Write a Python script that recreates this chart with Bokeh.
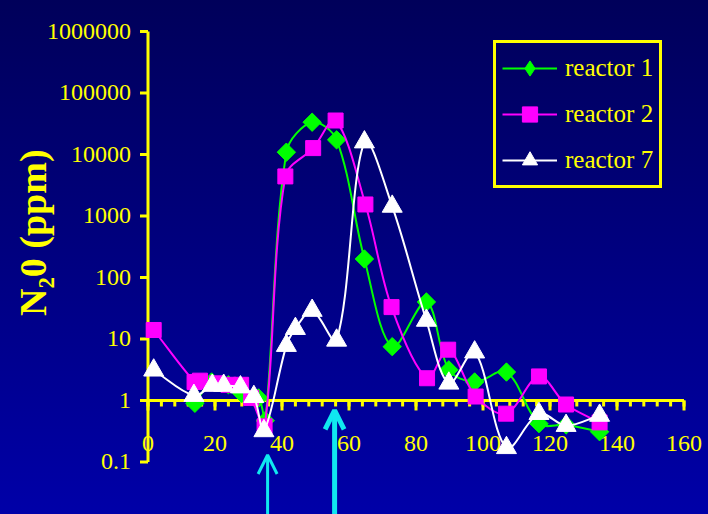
import numpy as np
from bokeh.plotting import figure
from bokeh.models import Legend, LegendItem, Arrow, OpenHead, ColumnDataSource
from bokeh.core.properties import value
from bokeh.embed import file_html
from bokeh.resources import INLINE

# ---- data ----
r1_x = [14, 19, 24, 28, 33, 35, 41.3, 49, 56.3, 64.6, 72.9, 83.1, 89.8, 97.5, 107, 116.7, 124.8, 134.8]
r1_y = [0.9, 2.0, 1.8, 1.3, 1.1, 0.47, 10900, 33500, 17300, 200, 7.5, 40, 3.15, 2.0, 2.9, 0.42, 0.4, 0.31]

r2_x = [1.7, 13.9, 15.5, 20.6, 24, 27.8, 30.8, 34.8, 41, 49.3, 56, 64.9, 72.7, 83.3, 89.6, 97.8, 106.9, 116.7, 124.8, 134.8]
r2_y = [14, 2.0, 2.1, 1.9, 1.8, 1.8, 1.1, 0.38, 4400, 12700, 35700, 1540, 33, 2.3, 6.7, 1.16, 0.61, 2.46, 0.86, 0.44]

r7_x = [1.7, 13.7, 19.2, 22.6, 27.6, 31.6, 34.6, 41.3, 44, 49, 56.3, 64.6, 72.9, 83.1, 89.8, 97.5, 107, 116.7, 124.8, 134.8]
r7_y = [3.1, 1.2, 1.75, 1.75, 1.65, 1.15, 0.32, 7.8, 14.7, 29, 9.5, 15900, 1430, 20, 1.9, 6.1, 0.17, 0.61, 0.39, 0.57]

series_names = ["reactor 1", "reactor 2", "reactor 7"]

x_ticks = [0, 20, 40, 60, 80, 100, 120, 140, 160]
x_tick_labels = ["0", "20", "40", "60", "80", "100", "120", "140", "160"]
x_minor = list(range(0, 161, 4))
y_ticks = [0.1, 1, 10, 100, 1000, 10000, 100000, 1000000]
y_tick_labels = ["0.1", "1", "10", "100", "1000", "10000", "100000", "1000000"]
y_title = "N\u20820 (ppm)"

arrow_x = [35.7, 55.7]
arrow_tip = [0.13, 0.69]
arrow_base = 0.014
arrow_width = [3, 5]

YELLOW = "#FFFF00"
GREEN = "#00FF00"
MAGENTA = "#FF00FF"
WHITE = "#FFFFFF"
CYAN = "#10E8F0"
FONT = "Liberation Serif"

# pixel size of one x unit and one decade (used only to weight curve smoothing)
PX_X, PX_DEC = 3.35, 61.5


def smooth(xs, ys, t=1 / 3):
    lx = np.asarray(xs, float)
    ly = np.log10(np.asarray(ys, float))
    px = np.concatenate([[lx[0]], lx, [lx[-1]]])
    py = np.concatenate([[ly[0]], ly, [ly[-1]]])

    def dist(i, j):
        return np.hypot((px[j] - px[i]) * PX_X, (py[j] - py[i]) * PX_DEC)

    d = dict(x0=[], y0=[], x1=[], y1=[], cx0=[], cy0=[], cx1=[], cy1=[])
    for i in range(len(lx) - 1):
        a, b, c, e = i, i + 1, i + 2, i + 3
        d01, d12, d23 = dist(a, b), dist(b, c), dist(c, e)
        f0 = t * d12 / (d01 + d12) if d01 + d12 > 0 else 0
        f1 = t * d12 / (d12 + d23) if d12 + d23 > 0 else 0
        d["x0"].append(px[b]); d["y0"].append(10 ** py[b])
        d["x1"].append(px[c]); d["y1"].append(10 ** py[c])
        d["cx0"].append(px[b] + f0 * (px[c] - px[a]))
        d["cy0"].append(10 ** (py[b] + f0 * (py[c] - py[a])))
        d["cx1"].append(px[c] - f1 * (px[e] - px[b]))
        d["cy1"].append(10 ** (py[c] - f1 * (py[e] - py[b])))
    return ColumnDataSource(d)


p = figure(width=708, height=514, y_axis_type="log",
           x_range=(-44.03, 167.31), y_range=(10 ** -1.854, 10 ** 6.504),
           x_axis_location=None, y_axis_location=None,
           output_backend="svg", toolbar_location=None,
           min_border_left=0, min_border_right=0, min_border_top=0, min_border_bottom=0)

p.background_fill_alpha = 0
p.border_fill_alpha = 0
p.outline_line_color = None
p.styles = {"background": "linear-gradient(to bottom, #00005A 0%, #000080 50%, #0000A8 100%)"}
p.xgrid.visible = False
p.ygrid.visible = False

# ---- y axis (at x = 0) ----
p.segment(x0=[x_ticks[0]], x1=[x_ticks[0]], y0=[y_ticks[0]], y1=[y_ticks[-1]],
          line_color=YELLOW, line_width=3)
p.ray(x=[x_ticks[0]] * len(y_ticks), y=y_ticks, length=8, length_units="screen", angle=np.pi,
      line_color=YELLOW, line_width=3)
p.text(x=[x_ticks[0]] * len(y_ticks), y=y_ticks, text=y_tick_labels, x_offset=-17,
       text_align="right", text_baseline="middle", text_font=value(FONT),
       text_font_size="24px", text_color=YELLOW)
y_mid = 10 ** np.mean(np.log10([y_ticks[0], y_ticks[-1]]))
p.text(x=[x_ticks[0]], y=[y_mid], text=[y_title], x_offset=-115, y_offset=-14, angle=np.pi / 2,
       text_align="center", text_baseline="middle", text_font=value(FONT),
       text_font_style="bold", text_font_size="38px", text_color=YELLOW)

# ---- x axis (at y = 1) ----
p.segment(x0=[x_ticks[0]], x1=[x_ticks[-1]], y0=[1], y1=[1], line_color=YELLOW, line_width=3)
p.ray(x=x_minor, y=[1] * len(x_minor), length=6, length_units="screen", angle=-np.pi / 2,
      line_color=YELLOW, line_width=3)
p.ray(x=x_ticks, y=[1] * len(x_ticks), length=10, length_units="screen", angle=-np.pi / 2,
      line_color=YELLOW, line_width=3)
p.text(x=x_ticks, y=[1] * len(x_ticks), text=x_tick_labels, y_offset=43,
       text_align="center", text_baseline="middle", text_font=value(FONT),
       text_font_size="24px", text_color=YELLOW)

# ---- series ----
items = []
specs = [
    (r1_x, r1_y, GREEN, dict(marker="square", size=13, angle=np.pi / 4), "diamond"),
    (r2_x, r2_y, MAGENTA, dict(marker="square", size=15), "square"),
    (r7_x, r7_y, WHITE, dict(marker="triangle", size=20), "triangle"),
]
for name, (xs, ys, col, mk, leg_mk) in zip(series_names, specs):
    bz = p.bezier(x0="x0", y0="y0", x1="x1", y1="y1", cx0="cx0", cy0="cy0", cx1="cx1", cy1="cy1",
                  source=smooth(xs, ys), line_color=col, line_width=2)
    p.scatter(x=xs, y=ys, fill_color=col, line_color=col, line_width=1, **mk)
    # zero-size twin: invisible on the plot, drawn at legend size in the legend
    leg_sc = p.scatter(x=xs, y=ys, size=0, marker=leg_mk, fill_color=col, line_color=col,
                       line_width=1)
    items.append(LegendItem(label=name, renderers=[bz, leg_sc]))

legend = Legend(items=items, location=(493, 326), margin=0, padding=6,
                glyph_width=55, glyph_height=38, label_height=38, spacing=8,
                label_standoff=8, label_text_font=FONT, label_text_font_size="25px",
                label_text_color=YELLOW, border_line_color=YELLOW, border_line_width=3,
                border_line_alpha=1.0, background_fill_alpha=0)
p.add_layout(legend)

# ---- arrows ----
for ax, tip, w in zip(arrow_x, arrow_tip, arrow_width):
    p.add_layout(Arrow(end=OpenHead(size=19, line_color=CYAN, line_width=w),
                       x_start=ax, y_start=arrow_base, x_end=ax, y_end=tip,
                       line_color=CYAN, line_width=w))

open("out.html", "w").write(file_html(p, INLINE))
